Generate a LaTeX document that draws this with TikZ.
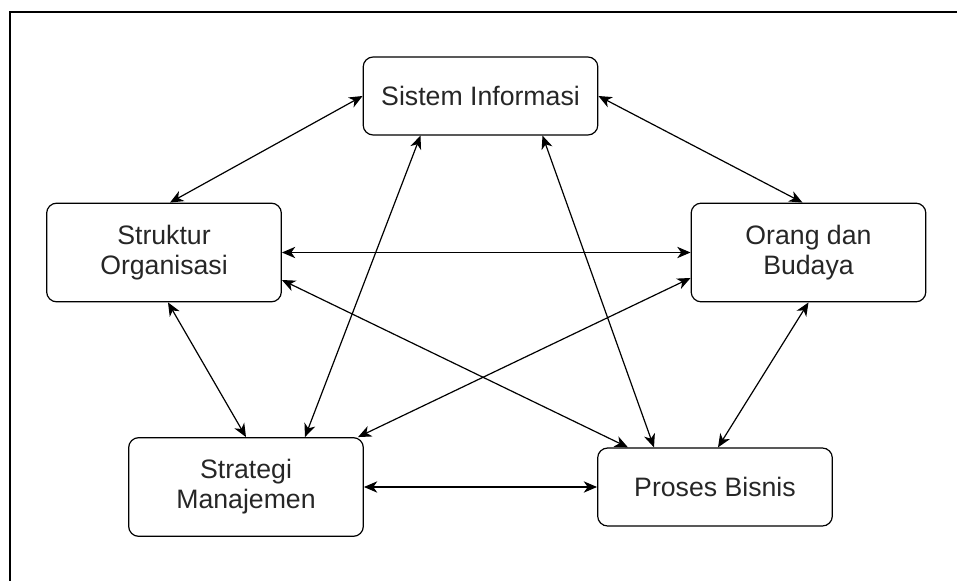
\documentclass[tikz,border=0pt]{standalone}
\usepackage{fontspec}
\setmainfont{Liberation Sans}
\usetikzlibrary{arrows.meta,calc}
\begin{document}
\begin{tikzpicture}[x=0.75pt, y=-0.75pt, line width=0.9pt,
				>={Stealth[length=10pt, width=8.5pt, inset=3pt]},
				box/.style={draw, rounded corners=7.5pt, minimum width=176pt, align=center,
					text=black!85, font=\fontsize{20}{22.5}\selectfont},
				small/.style={box, minimum height=58.5pt},
				tall/.style={box, minimum height=74pt},
				link/.style={<->}]
				\useasboundingbox (0,0) rectangle (957,581);
				\draw (957,12) -- (10,12) -- (10,581);
				\node[small] (si) at (480.5,96) {Sistem Informasi};
				\node[tall] (so) at (164,252.5) {Struktur\\Organisasi};
				\node[tall] (ob) at (808.5,252.5) {Orang dan\\Budaya};
				\node[tall] (sm) at (246,487) {Strategi\\Manajemen};
				\node[small] (pb) at (715,487) {Proses Bisnis};
				\draw[link] (si.west) -- ($(so.north)+(6,0)$);
				\draw[link] (si.east) -- ($(ob.north)+(-6,0)$);
				\draw[link] (so.east) -- (ob.west);
				\draw[link] ($(so.east)+(0,27.5)$) -- ($(pb.north)+(-87,0)$);
				\draw[link] ($(si.south)+(-60,0)$) -- ($(sm.north)+(59,0)$);
				\draw[link] ($(si.south)+(62,0)$) -- ($(pb.north)+(-61,0)$);
				\draw[link] ($(ob.west)+(0,25.5)$) -- ($(sm.north)+(112,0)$);
				\draw[link] ($(so.south)+(4,0)$) -- (sm.north);
				\draw[link] (ob.south) -- ($(pb.north)+(3,0)$);
				\draw[link] (sm.east) -- (pb.west);
			\end{tikzpicture}
\end{document}
